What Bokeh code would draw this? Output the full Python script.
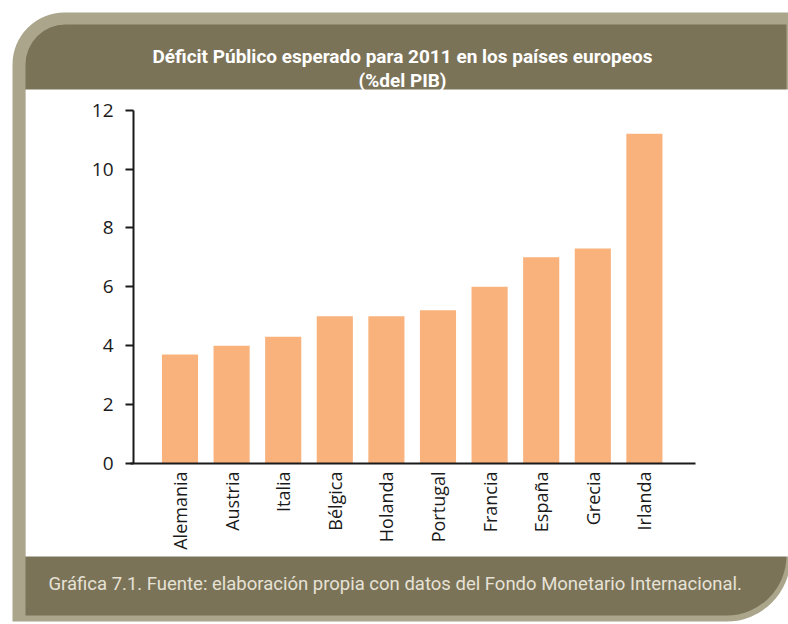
import math
from bokeh.plotting import figure
from bokeh.models import Range1d, FixedTicker, BoxAnnotation, Label
from bokeh.embed import file_html
from bokeh.resources import INLINE

# ---- data ----
countries = ["Alemania", "Austria", "Italia", "Bélgica", "Holanda",
             "Portugal", "Francia", "España", "Grecia", "Irlanda"]
deficit = [3.7, 4.0, 4.3, 5.0, 5.0, 5.2, 6.0, 7.0, 7.3, 11.2]
y_ticks = [0, 2, 4, 6, 8, 10, 12]
title_line1 = "Déficit Público esperado para 2011 en los países europeos"
title_line2 = "(%del PIB)"
caption = "Gráfica 7.1. Fuente: elaboración propia con datos del Fondo Monetario Internacional."

positions = list(range(len(countries)))

OLIVE = "#7b7358"
RIM = "#aaa58b"
BAR = "#f9b27c"
INK = "#1a1a1a"

W, H = 788, 624
# pixel layout of the data area inside the canvas
PX_X = 51.6          # px per category
X0_PX = 179.5        # canvas x of first category
PX_Y = 29.45         # px per unit of deficit
Y0_PX = 463          # canvas y of value 0

x_start = -X0_PX / PX_X
x_end = x_start + W / PX_X
y_start = -(H - Y0_PX) / PX_Y
y_end = y_start + H / PX_Y

p = figure(width=W, height=H, output_backend="svg", toolbar_location=None,
           title=None,
           x_range=Range1d(x_start, x_end), y_range=Range1d(y_start, y_end),
           min_border=0)
p.border_fill_color = "white"
p.background_fill_color = "white"
p.outline_line_color = None
p.grid.visible = False

# frame decoration (canvas units)
def cbox(l, t, r, b, color, radius=0):
    return BoxAnnotation(left=l, right=r, top=t, bottom=b,
                         left_units="canvas", right_units="canvas",
                         top_units="canvas", bottom_units="canvas",
                         fill_color=color, fill_alpha=1, line_color=None,
                         border_radius=radius, level="underlay")

p.add_layout(cbox(12, 12, 790, 621, RIM, (52, 0, 64, 0)))
p.add_layout(cbox(25, 24, 786, 615, OLIVE, (40, 0, 60, 0)))
p.add_layout(cbox(25, 89, 800, 556, "white"))

p.vbar(x=positions, top=deficit, width=0.70, fill_color=BAR, line_color=None)

# axes (drawn inside the canvas at fixed locations)
yax = p.yaxis[0]
yax.fixed_location = (133 - X0_PX) / PX_X
yax.bounds = (y_ticks[0], y_ticks[-1])
yax.ticker = FixedTicker(ticks=y_ticks)
yax.minor_tick_line_color = None
yax.major_tick_out = 8
yax.major_tick_in = 0
yax.major_tick_line_color = INK
yax.major_tick_line_width = 2
yax.axis_line_color = INK
yax.axis_line_width = 2
yax.major_label_text_font = "Open Sans"
yax.major_label_text_font_size = "19px"
yax.major_label_text_color = INK
yax.major_label_standoff = 12

xax = p.xaxis[0]
xax.fixed_location = 0
xax.bounds = ((130 - X0_PX) / PX_X, (695 - X0_PX) / PX_X)
xax.ticker = FixedTicker(ticks=positions)
xax.major_label_overrides = {i: c for i, c in zip(positions, countries)}
xax.major_tick_line_color = None
xax.minor_tick_line_color = None
xax.major_tick_out = 0
xax.major_tick_in = 0
xax.axis_line_color = INK
xax.axis_line_width = 2
xax.major_label_orientation = math.pi / 2
xax.major_label_text_font = "Open Sans"
xax.major_label_text_font_size = "18px"
xax.major_label_text_color = INK
xax.major_label_standoff = 8

# title and caption
p.add_layout(Label(x=402, y=56, x_units="canvas", y_units="canvas", text=title_line1,
                   text_align="center", text_baseline="alphabetic",
                   text_font="Roboto", text_font_style="bold", text_font_size="19px",
                   text_color="white"))
p.add_layout(Label(x=402, y=80, x_units="canvas", y_units="canvas", text=title_line2,
                   text_align="center", text_baseline="alphabetic",
                   text_font="Roboto", text_font_style="bold", text_font_size="19px",
                   text_color="white"))
p.add_layout(Label(x=48, y=583, x_units="canvas", y_units="canvas", text=caption,
                   text_align="left", text_baseline="alphabetic",
                   text_font="Roboto", text_font_size="18.5px",
                   text_color="#e6e2d6"))

open("out.html", "w").write(file_html(p, INLINE))
